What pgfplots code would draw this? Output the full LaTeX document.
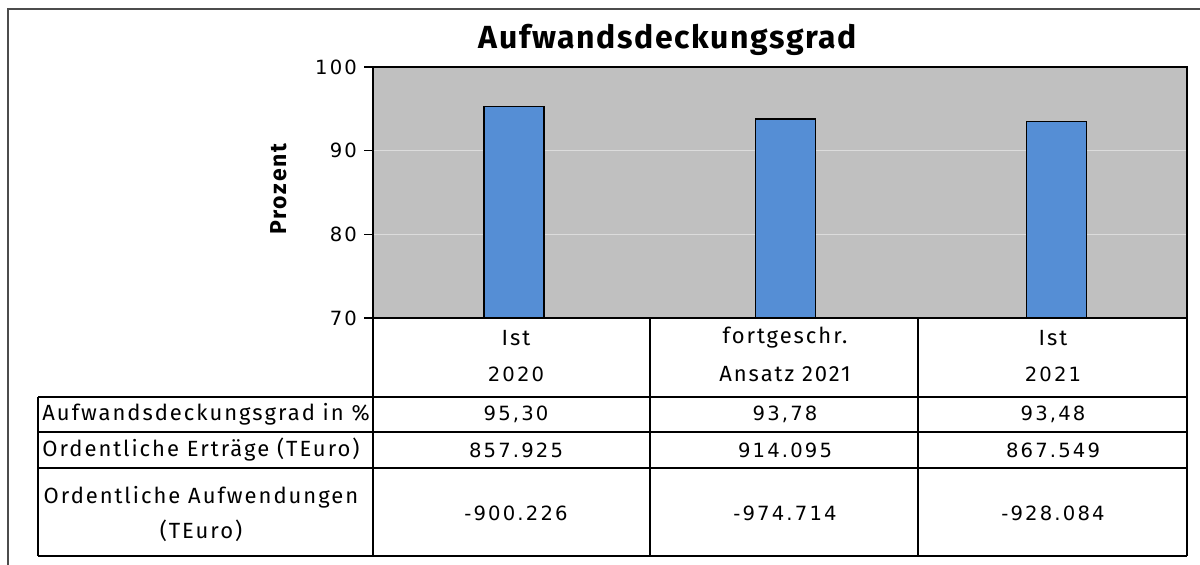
\documentclass[border=0pt]{standalone}
\usepackage{pgfplots}
\pgfplotsset{compat=1.18}
\usepackage{fontspec}
\setmainfont{Fira Sans}
\newfontfamily\tabfont[LetterSpace=9]{Fira Sans}
\newfontfamily\numfont[LetterSpace=11]{DejaVu Sans}
\newfontfamily\titlefont[LetterSpace=5]{Fira Sans}
\newfontfamily\labfont[LetterSpace=8]{Fira Sans}
\definecolor{barblue}{RGB}{85,142,213}
\definecolor{plotgray}{RGB}{192,192,192}
\definecolor{gridc}{RGB}{220,220,220}
\begin{document}
\begin{tikzpicture}
\path[use as bounding box] (0,0) rectangle (600pt,282pt);
\begin{axis}[
  at={(186.5pt,123pt)}, anchor=south west,
  scale only axis, width=407pt, height=125.5pt,
  xmin=0.48, xmax=3.48, ymin=70, ymax=100,
  ytick={70,80,90,100}, xtick=\empty, ytick pos=left,
  ymajorgrids, grid style={gridc, line width=0.7pt},
  axis background/.style={fill=plotgray},
  axis line style={black, line width=0.8pt},
  tick align=outside, major tick length=4.5pt,
  ytick style={black, line width=0.7pt},
  tick label style={font=\numfont\fontsize{9.8}{12}\selectfont},
  /pgf/number format/assume math mode=true,
]
\addplot[ybar, bar width=30pt, fill=barblue, draw=black, line width=0.7pt]
  coordinates {(1,95.30) (2,93.78) (3,93.48)};
\end{axis}
\begin{scope}[x=0.5pt, y=-0.5pt, shift={(0pt,282pt)}]
  \draw[black!70, line width=1.1pt] (8,600) -- (8,9) -- (1230,9);
  \node[font=\titlefont\bfseries\fontsize{16}{19}\selectfont] at (668,40) {Aufwandsdeckungsgrad};
  \node[font=\labfont\bfseries\fontsize{11.5}{13}\selectfont, rotate=90] at (279,189) {Prozent};
  \begin{scope}[line width=0.8pt]
    \draw (373,318) -- (373,556);
    \draw (650,318) -- (650,556);
    \draw (918,318) -- (918,556);
    \draw (1187,318) -- (1187,556);
    \draw (38,397) -- (1187,397);
    \draw (38,432) -- (1187,432);
    \draw (38,468) -- (1187,468);
    \draw (38,556) -- (1187,556);
    \draw (38,397) -- (38,556);
  \end{scope}
  \begin{scope}[every node/.style={font=\tabfont\fontsize{11}{13}\selectfont, inner sep=0pt}]
    \node at (516,338) {Ist};
    \node at (516,374) {\numfont\fontsize{9.8}{12}\selectfont 2020};
    \node at (785,338) {fortgeschr.};
    \node at (785,374) {Ansatz 2021};
    \node at (1053,338) {Ist};
    \node at (1053,374) {\numfont\fontsize{9.8}{12}\selectfont 2021};
    \node[anchor=west] at (42,414) {Aufwandsdeckungsgrad in \%};
    \node[anchor=west] at (42,450) {Ordentliche Erträge (TEuro)};
    \node at (201,497) {Ordentliche Aufwendungen};
    \node at (201,531) {(TEuro)};
  \end{scope}
  \begin{scope}[every node/.style={font=\numfont\fontsize{9.8}{12}\selectfont, inner sep=0pt}]
    \node at (516,414) {95,30};
    \node at (785,414) {93,78};
    \node at (1053,414) {93,48};
    \node at (516,450) {857.925};
    \node at (785,450) {914.095};
    \node at (1053,450) {867.549};
    \node at (516,513) {-900.226};
    \node at (785,513) {-974.714};
    \node at (1053,513) {-928.084};
  \end{scope}
\end{scope}
\end{tikzpicture}
\end{document}
